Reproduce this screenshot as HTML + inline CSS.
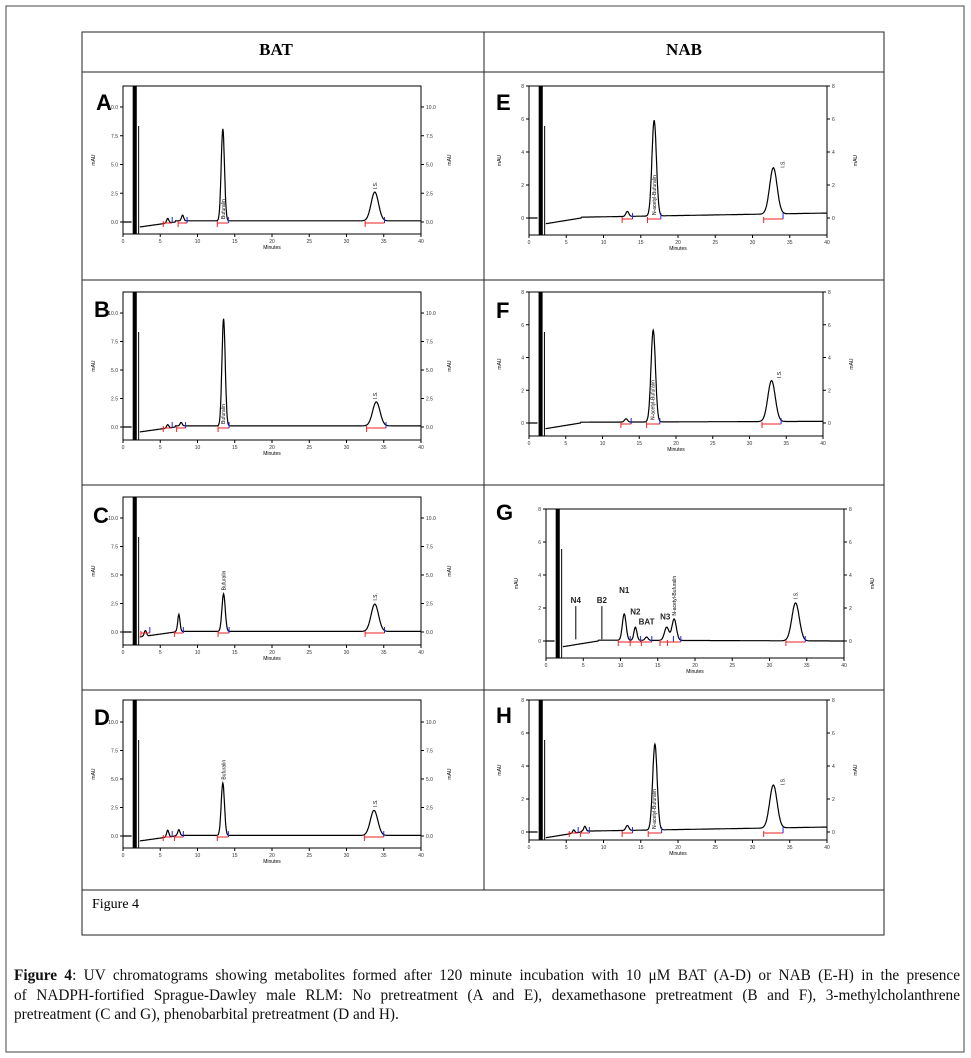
<!DOCTYPE html>
<html><head><meta charset="utf-8"><style>
body{margin:0;background:#fff;width:971px;height:1058px;overflow:hidden;font-family:"Liberation Sans",sans-serif}
#cap{position:absolute;left:14px;top:966px;width:946px;font-family:"Liberation Serif",serif;font-size:15.3px;line-height:19.5px;color:#111;white-space:nowrap}
#cap .j{text-align:justify;text-align-last:justify}
</style></head><body>
<svg id="fig" width="971" height="1058" style="position:absolute;left:0;top:0">
<rect x="6" y="6" width="958" height="1046" fill="none" stroke="#444" stroke-width="1"/>
<rect x="82" y="32" width="802" height="903" fill="none" stroke="#222" stroke-width="1"/>
<line x1="484" y1="32" x2="484" y2="890" stroke="#222"/>
<line x1="82" y1="72" x2="884" y2="72" stroke="#222"/>
<line x1="82" y1="280" x2="884" y2="280" stroke="#222"/>
<line x1="82" y1="485" x2="884" y2="485" stroke="#222"/>
<line x1="82" y1="690" x2="884" y2="690" stroke="#222"/>
<line x1="82" y1="890" x2="884" y2="890" stroke="#222"/>
<text x="276" y="55" text-anchor="middle" font-family="Liberation Serif" font-weight="bold" font-size="17">BAT</text>
<text x="684" y="55" text-anchor="middle" font-family="Liberation Serif" font-weight="bold" font-size="17">NAB</text>
<text x="92" y="908" font-family="Liberation Serif" font-size="14">Figure 4</text>
</svg>
<div id="cap"><div class="j"><b>Figure 4</b>: UV chromatograms showing metabolites formed after 120 minute incubation with 10 μM BAT (A-D) or NAB (E-H) in the presence</div><div class="j">of NADPH-fortified Sprague-Dawley male RLM: No pretreatment (A and E), dexamethasone pretreatment (B and F), 3-methylcholanthrene</div><div>pretreatment (C and G), phenobarbital pretreatment (D and H).</div></div>
<script>
// peak data per panel: retention times (min), heights (mAU), widths (min)
const peakTimesA=[6,8,13.4,33.8], peakHeightsA=[0.4,0.5,8.0,2.5], peakWidthsA=[0.15,0.15,0.22,0.5];
const peakTimesB=[6,7.8,13.5,34], peakHeightsB=[0.3,0.3,9.4,2.1], peakWidthsB=[0.15,0.15,0.22,0.5];
const peakTimesC=[3,7.5,13.5,33.8], peakHeightsC=[0.5,1.5,3.3,2.4], peakWidthsC=[0.15,0.15,0.22,0.5];
const peakTimesD=[6,7.5,13.4,33.7], peakHeightsD=[0.6,0.5,4.6,2.2], peakWidthsD=[0.15,0.15,0.22,0.5];
const peakTimesE=[13.2,16.8,32.8], peakHeightsE=[0.3,5.8,2.8], peakWidthsE=[0.2,0.3,0.5];
const peakTimesF=[13.2,16.9,33], peakHeightsF=[0.2,5.6,2.5], peakWidthsF=[0.2,0.3,0.5];
const peakTimesG=[10.5,12,13.5,16.2,17.2,33.5], peakHeightsG=[1.6,0.8,0.2,0.8,1.3,2.3], peakWidthsG=[0.25,0.2,0.2,0.3,0.3,0.5];
const peakTimesH=[6,7.5,13.2,16.9,32.8], peakHeightsH=[0.2,0.3,0.3,5.2,2.6], peakWidthsH=[0.15,0.15,0.2,0.3,0.5];
const batTicks=[0,2.5,5,7.5,10], batTickLabels=["0.0","2.5","5.0","7.5","10.0"];
const nabTicks=[0,2,4,6,8], nabTickLabels=["0","2","4","6","8"];
const xTicks=[0,5,10,15,20,25,30,35,40], xTickLabels=["0","5","10","15","20","25","30","35","40"];
const peakLabelsA=[[13.4,"Bufuralin"],[33.8,"I.S."]];
const peakLabelsC=[[13.5,"Bufuralin"],[33.8,"I.S."]];
const peakLabelsE=[[16.8,"N-acetyl-Bufuralin"],[34,"I.S."]];
const peakLabelsG=[[17.2,"N-acetyl-Bufuralin"],[33.5,"I.S."]];
const gAnnot=[[4,"N4",2.3],[7.5,"B2",2.3],[10.5,"N1",2.9],[12,"N2",1.6],[13.5,"BAT",1.0],[16,"N3",1.3]];

const NS="http://www.w3.org/2000/svg", svg=document.getElementById('fig');
function mk(t,a,p){const e=document.createElementNS(NS,t);for(const k in a)e.setAttribute(k,a[k]);(p||svg).appendChild(e);return e;}
const panels=[
 {id:'A',L:'A',x0:123,x1:421,y0:86,y1:234,zero:222,ymaxv:10,ypx:115,t:peakTimesA,h:peakHeightsA,w:peakWidthsA,ticks:batTicks,tl:batTickLabels,lab:peakLabelsA,bl:0.1,end:0.1,lx:96,ly:110},
 {id:'B',L:'B',x0:123,x1:421,y0:292,y1:440,zero:427,ymaxv:10,ypx:114,t:peakTimesB,h:peakHeightsB,w:peakWidthsB,ticks:batTicks,tl:batTickLabels,lab:peakLabelsA,bl:0.1,end:0.1,lx:94,ly:317},
 {id:'C',L:'C',x0:123,x1:421,y0:497,y1:645,zero:632,ymaxv:10,ypx:114,t:peakTimesC,h:peakHeightsC,w:peakWidthsC,ticks:batTicks,tl:batTickLabels,lab:peakLabelsC,bl:0.05,end:0.05,lx:93,ly:523},
 {id:'D',L:'D',x0:123,x1:421,y0:700,y1:848,zero:836,ymaxv:10,ypx:114,t:peakTimesD,h:peakHeightsD,w:peakWidthsD,ticks:batTicks,tl:batTickLabels,lab:peakLabelsC,bl:0.05,end:0.05,lx:94,ly:725},
 {id:'E',L:'E',x0:529,x1:827,y0:86,y1:235,zero:218,ymaxv:8,ypx:132,t:peakTimesE,h:peakHeightsE,w:peakWidthsE,ticks:nabTicks,tl:nabTickLabels,lab:peakLabelsE,bl:0.05,end:0.3,lx:496,ly:110},
 {id:'F',L:'F',x0:529,x1:823,y0:292,y1:436,zero:423,ymaxv:8,ypx:131,t:peakTimesF,h:peakHeightsF,w:peakWidthsF,ticks:nabTicks,tl:nabTickLabels,lab:peakLabelsE,bl:0.05,end:0.1,lx:496,ly:318},
 {id:'G',L:'G',x0:546,x1:844,y0:509,y1:658,zero:641,ymaxv:8,ypx:132,t:peakTimesG,h:peakHeightsG,w:peakWidthsG,ticks:nabTicks,tl:nabTickLabels,lab:peakLabelsG,bl:0.05,end:0.0,lx:496,ly:520},
 {id:'H',L:'H',x0:529,x1:827,y0:700,y1:840,zero:832,ymaxv:8,ypx:132,t:peakTimesH,h:peakHeightsH,w:peakWidthsH,ticks:nabTicks,tl:nabTickLabels,lab:peakLabelsE,bl:0.05,end:0.3,lx:496,ly:723}
];
panels.forEach(p=>{
 const g=mk('g',{});
 
 
 const X=v=>p.x0+(p.x1-p.x0)*v/40, Y=v=>p.zero-v*p.ypx/p.ymaxv;
 const lt=mk('text',{x:p.lx,y:p.ly,'font-size':22,'font-weight':'bold'},g);lt.textContent=p.L;
 
 
 const fr=mk('rect',{x:p.x0,y:p.y0,width:p.x1-p.x0,height:p.y1-p.y0,fill:'none',stroke:'#000','stroke-width':1},g);
 
 
 p.ticks.forEach((tv,i)=>{
  [[p.x0,-3,'end',-5],[p.x1,3,'start',5]].forEach(([ax,d,an,off])=>{
   mk('line',{x1:ax,x2:ax+d,y1:Y(tv),y2:Y(tv),stroke:'#000'},g);
   const t=mk('text',{x:ax+off,y:Y(tv)+2,'font-size':5,'text-anchor':an,fill:'#333'},g);t.textContent=p.tl[i];
   
   
  });
 });
 xTicks.forEach((tv,i)=>{
  mk('line',{x1:X(tv),x2:X(tv),y1:p.y1,y2:p.y1+3,stroke:'#000'},g);
  const t=mk('text',{x:X(tv),y:p.y1+9,'font-size':5,'text-anchor':'middle',fill:'#333'},g);t.textContent=xTickLabels[i];
  
  
 });
 const xt=mk('text',{x:(p.x0+p.x1)/2,y:p.y1+15,'font-size':5,'text-anchor':'middle'},g);xt.textContent='Minutes';
 
 
 const ym=(p.y0+p.y1)/2;
 [p.x0-28,p.x1+30].forEach(ax=>{const t=mk('text',{x:ax,y:ym,'font-size':5,'text-anchor':'middle',transform:`rotate(-90 ${ax} ${ym})`},g);t.textContent='mAU';
  
  });
 const sf=mk('rect',{x:X(1.3),y:p.y0,width:X(1.85)-X(1.3),height:p.y1-p.y0,fill:'#000'},g);
 
 
 mk('line',{x1:X(2.1),x2:X(2.1),y1:p.y0+40,y2:p.y1,stroke:'#000','stroke-width':1},g);
 let d='M'+p.x0+','+Y(0);
 for(let tm=0;tm<=40;tm+=0.05){
  if(tm>1.2&&tm<2.2)continue;
  let base=tm<1.2?0:p.bl+(p.end-p.bl)*(tm-7)/33;
  if(tm>=2.2&&tm<7)base=-0.35*(p.ymaxv/8)*(7-tm)/4.8;
  let v=base;
  p.t.forEach((c,i)=>{v+=p.h[i]*Math.exp(-((tm-c)**2)/(2*p.w[i]**2));});
  d+=(tm<2.3&&tm>2.1?'M':'L')+X(tm).toFixed(1)+','+Y(v).toFixed(1);
 }
 const tr=mk('path',{d:d,fill:'none',stroke:'#000','stroke-width':1.2},g);
 
 
 p.t.forEach((c,i)=>{
  mk('line',{x1:X(c-2*p.w[i]-0.3),x2:X(c+2*p.w[i]+0.3),y1:Y(0)+1,y2:Y(0)+1,stroke:'#e22','stroke-width':1},g);
  mk('line',{x1:X(c-2*p.w[i]-0.3),x2:X(c-2*p.w[i]-0.3),y1:Y(0)-1,y2:Y(0)+5,stroke:'#e22'},g);
  mk('line',{x1:X(c+2*p.w[i]+0.3),x2:X(c+2*p.w[i]+0.3),y1:Y(0)-5,y2:Y(0)+1,stroke:'#22e'},g);
 });
 p.lab.forEach(([c,s])=>{
  const i=p.t.reduce((b,tv,k)=>Math.abs(tv-c)<Math.abs(p.t[b]-c)?k:b,0);
  const big=s!=='I.S.';
  const yy=big&&p.id!=='C'&&p.id!=='D'&&p.id!=='G'?Y(0)-3:Y(p.h[i])-4;
  const t=mk('text',{x:X(c)+2,y:yy,'font-size':5,transform:`rotate(-90 ${X(c)+2} ${yy})`},g);t.textContent=s;
  
  
 });
 if(p.id==='G'){
  gAnnot.forEach(([c,s,hv])=>{
   const t=mk('text',{x:X(c),y:Y(hv),'font-size':8,'font-weight':'bold','text-anchor':'middle',fill:'#222'},g);t.textContent=s;
   
   
   if(s==='N4'||s==='B2')mk('line',{x1:X(c),x2:X(c),y1:Y(hv)+3,y2:Y(0.1),stroke:'#000'},g);
  });
 }
});
</script>
</body></html>
